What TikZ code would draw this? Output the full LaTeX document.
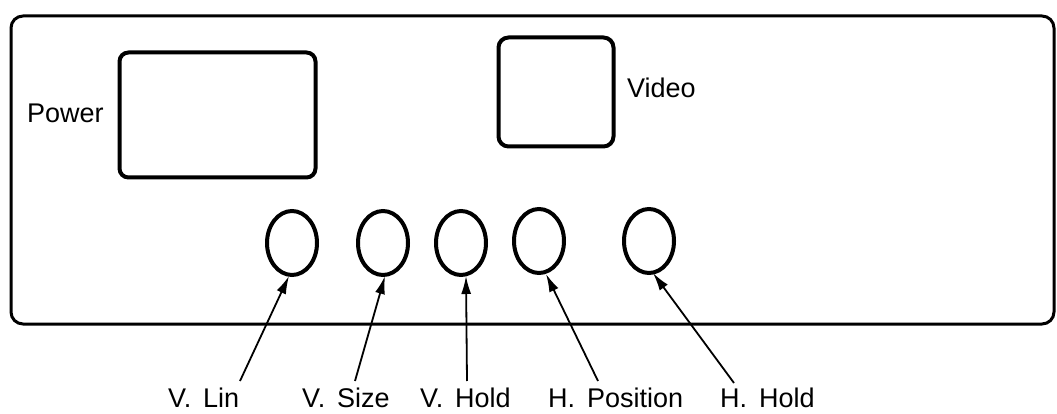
\documentclass[tikz,border=0pt]{standalone}
\usepackage{fontspec}
\setmainfont[WordSpace=1.6]{Liberation Sans}
\usetikzlibrary{shapes.geometric,arrows.meta}
\begin{document}
\begin{tikzpicture}[x=1pt,y=-1pt,
  frame/.style={draw,line width=3pt,rounded corners=12pt},
  panel/.style={draw,line width=4pt,rounded corners=9pt,inner sep=0pt},
  knob/.style={draw,ellipse,line width=4pt,inner sep=0pt,minimum width=50pt,minimum height=64pt},
  lbl/.style={font=\fontsize{27}{30}\selectfont,inner sep=0pt},
  arr/.style={line width=1.8pt,-{Latex[length=18pt,width=10pt]}}]
\useasboundingbox (0,0) rectangle (1057,414);
\fill[white] (0,0) rectangle (1057,414);
% outer front panel
\draw[frame] (11,16) rectangle (1054,324);
% power and video windows
\node[panel,minimum width=196pt,minimum height=125pt] (power) at (217.5,115) {};
\node[panel,minimum width=115pt,minimum height=109pt,rounded corners=10pt] (video) at (556,92) {};
\node[lbl,anchor=base west] (powerlbl) at (27,123) {Power};
\node[lbl,anchor=base west] (videolbl) at (627,98) {Video};
% knobs
\node[knob] (k1) at (292,243) {};
\node[knob] (k2) at (383,243) {};
\node[knob] (k3) at (461,243) {};
\node[knob] (k4) at (539,241) {};
\node[knob] (k5) at (649,241) {};
% labels
\node[lbl,anchor=base west] (l1) at (168,407) {V. Lin};
\node[lbl,anchor=base west] (l2) at (302,407) {V. Size};
\node[lbl,anchor=base west] (l3) at (420,407) {V. Hold};
\node[lbl,anchor=base west] (l4) at (548,407) {H. Position};
\node[lbl,anchor=base west] (l5) at (720,407) {H. Hold};
% arrow tails
\coordinate (t1) at (240,381);
\coordinate (t2) at (355,381);
\coordinate (t3) at (467,381);
\coordinate (t4) at (598,381);
\coordinate (t5) at (734,383);
\draw[arr] (t1) -- ([xshift=-3pt,yshift=1pt]k1.south);
\draw[arr] (t2) -- ([xshift=2pt,yshift=1pt]k2.south);
\draw[arr] (t3) -- ([xshift=5pt,yshift=1pt]k3.south);
\draw[arr] (t4) -- ([xshift=7pt,yshift=1pt]k4.south);
\draw[arr] (t5) -- ([xshift=4pt,yshift=2pt]k5.south);
\end{tikzpicture}
\end{document}
